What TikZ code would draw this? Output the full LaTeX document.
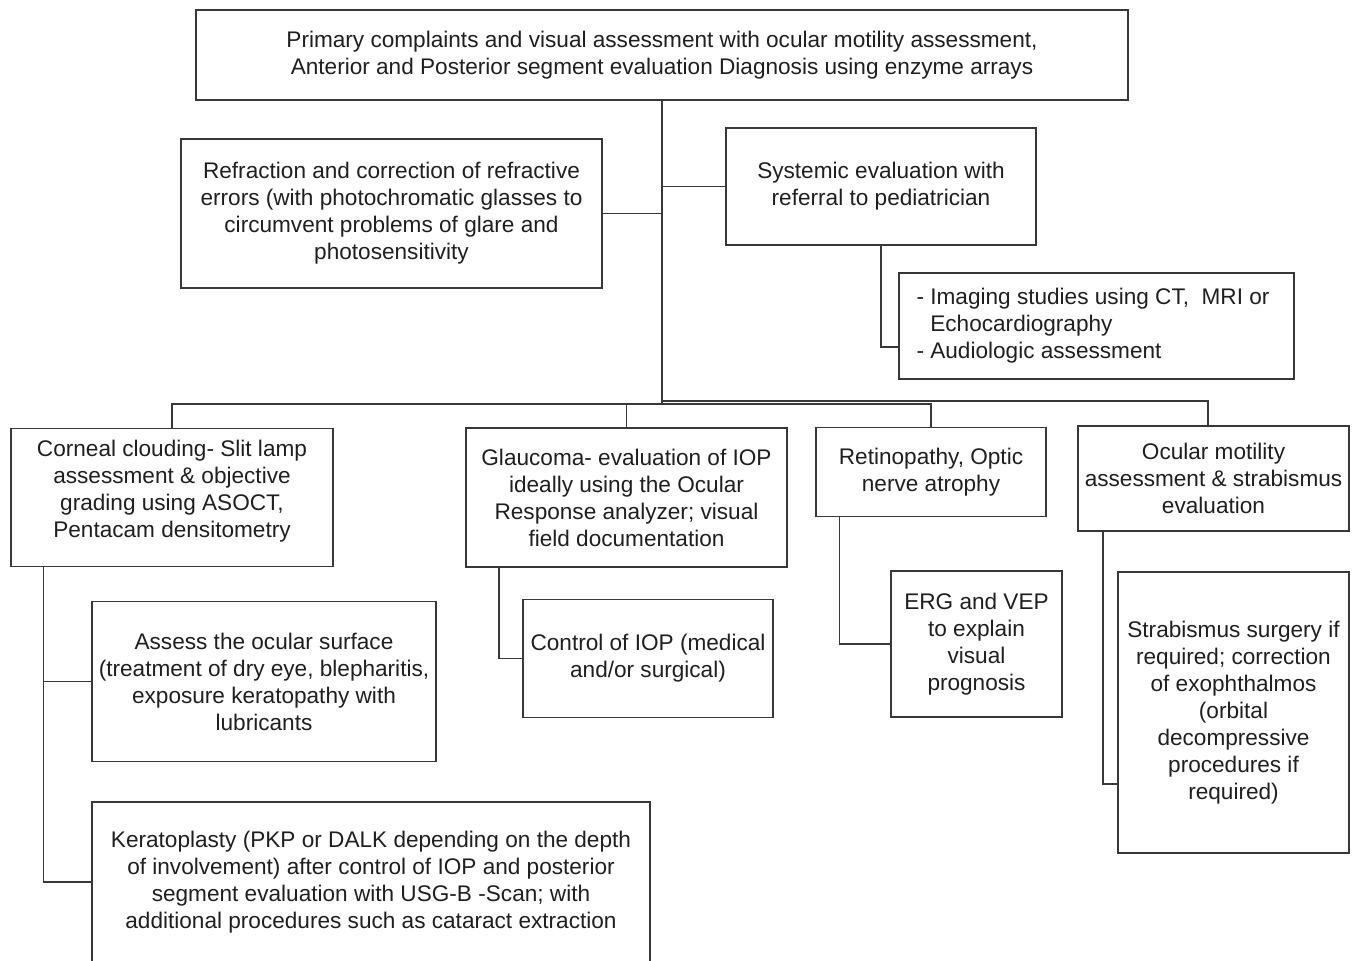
\documentclass[tikz,border=0pt]{standalone}
\usepackage{fontspec}
\setmainfont{Liberation Sans}
\begin{document}
\begin{tikzpicture}[x=1pt,y=-1pt,
  box/.style={draw=black!78, line width=1.3pt, align=center, inner sep=0pt},
  txt/.style={align=center, inner sep=0pt},
  conn/.style={draw=black!78, line width=1.3pt},
  every node/.append style={font=\fontsize{22.6}{27}\selectfont, text=black!88}]
\useasboundingbox (0,0) rectangle (1353,961);

% level 0
\node[box, minimum width=932, minimum height=90] (top) at (662,55)
  {Primary complaints and visual assessment with ocular motility assessment,\\
   Anterior and Posterior segment evaluation Diagnosis using enzyme arrays};

% level 1
\node[box, minimum width=421, minimum height=149] (refr) at (391.5,213.5)
  {Refraction and correction of refractive\\errors (with photochromatic glasses to\\circumvent problems of glare and\\photosensitivity};
\node[box, minimum width=310, minimum height=117] (sys) at (881,186.5)
  {Systemic evaluation with\\referral to pediatrician};
\node[box, minimum width=395, minimum height=106] (img) at (1096.5,326) {};
\node[txt, align=left, anchor=west] (img-t) at ([xshift=18]img.west)
  {- Imaging studies using CT,\ \ MRI or\\\hphantom{-\ }Echocardiography\\- Audiologic assessment};

% level 2
\node[box, minimum width=322, minimum height=138] (corn) at (172,497.5) {};
\node[txt] (corn-t) at ([yshift=6]corn.center)
  {Corneal clouding- Slit lamp\\assessment \& objective\\grading using ASOCT,\\Pentacam densitometry};
\node[box, minimum width=321, minimum height=139] (glau) at (626.5,497.5)
  {Glaucoma- evaluation of IOP\\ideally using the Ocular\\Response analyzer; visual\\field documentation};
\node[box, minimum width=230, minimum height=89] (retin) at (931,472)
  {Retinopathy, Optic\\nerve atrophy};
\node[box, minimum width=271, minimum height=105] (ocul) at (1213.5,478.5)
  {Ocular motility\\assessment \& strabismus\\evaluation};

% level 3
\node[box, minimum width=344, minimum height=160] (assess) at (264,681.5)
  {Assess the ocular surface\\(treatment of dry eye, blepharitis,\\exposure keratopathy with\\lubricants};
\node[box, minimum width=558, minimum height=160] (kerat) at (371,882)
  {Keratoplasty (PKP or DALK depending on the depth\\of involvement) after control of IOP and posterior\\segment evaluation with USG-B -Scan; with\\additional procedures such as cataract extraction};
\node[box, minimum width=250, minimum height=118] (ctrl) at (648,658.5)
  {Control of IOP (medical\\and/or surgical)};
\node[box, minimum width=171, minimum height=146] (erg) at (976.5,644)
  {ERG and VEP\\to explain\\visual\\prognosis};
\node[box, minimum width=231, minimum height=281] (strab) at (1233.5,712.5)
  {Strabismus surgery if\\required; correction\\of exophthalmos\\(orbital\\decompressive\\procedures if\\required)};

% connectors
\coordinate (busL) at (662,404);
\coordinate (busR) at (662,401);
\path[conn] (top.south) -- (busL);
\path[conn] (refr.east) -- (refr.east -| busL);
\path[conn] (sys.west) -- (sys.west -| busL);
\path[conn] (sys.south) |- ([yshift=-21]img.west);
\path[conn] (corn.north) |- (busL);
\path[conn] (busL -| glau.north) -- (glau.north);
\path[conn] (busL) -| (retin.north);
\coordinate (ocx) at ([xshift=-5.5]ocul.north);
\path[conn] (busR) -| (ocx);

\coordinate (cl) at ([xshift=-128.5]corn.south);
\path[conn] (cl) |- (assess.west);
\path[conn] (cl) |- (kerat.west);
\coordinate (gl) at ([xshift=-127.5]glau.south);
\path[conn] (gl) |- (ctrl.west);
\coordinate (rl) at ([xshift=-91.5]retin.south);
\path[conn] (rl) |- (erg.west);
\coordinate (ol) at ([xshift=-110.5]ocul.south);
\path[conn] (ol) |- ([yshift=-71.5]strab.west);
\end{tikzpicture}
\end{document}
